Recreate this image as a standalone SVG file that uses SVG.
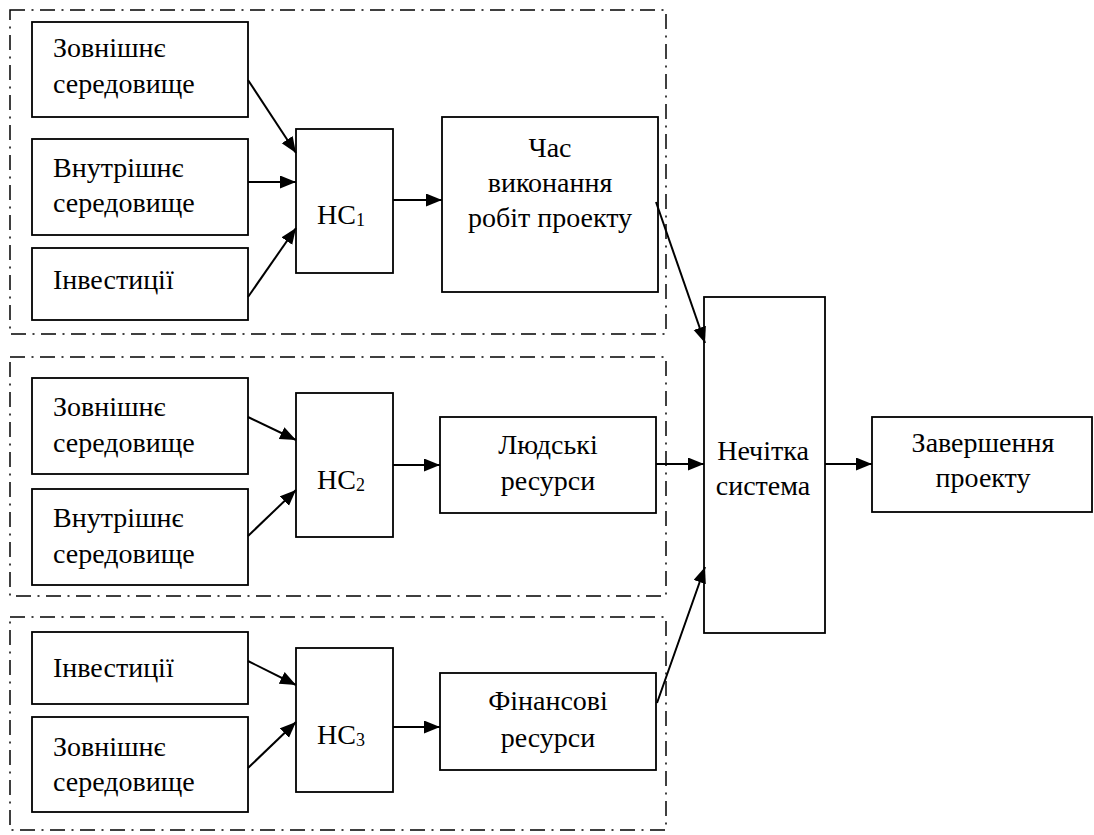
<svg xmlns="http://www.w3.org/2000/svg" width="1094" height="835" viewBox="0 0 1094 835">
<style>
.box{fill:#fff;stroke:#000;stroke-width:1.8}
.grp{fill:none;stroke:#000;stroke-width:1.5;stroke-dasharray:15 6.5 2 6.5}
.c{text-anchor:middle}
.ln{fill:none;stroke:#000;stroke-width:2;marker-end:url(#ah)}
</style>
<defs>
<marker id="ah" markerUnits="userSpaceOnUse" markerWidth="17" markerHeight="14" refX="16" refY="6.5" orient="auto">
<path d="M0,0 L16,6.5 L0,13 z" fill="#000"/>
</marker>
</defs>
<rect width="1094" height="835" fill="#fff"/>
<g id="groups">
<rect class="grp" x="10" y="10" width="656" height="324"/>
<rect class="grp" x="10" y="357" width="656" height="239"/>
<rect class="grp" x="10" y="617" width="656" height="213"/>
</g>
<g id="g1-ext"><rect class="box" x="32" y="22" width="216" height="95"/><text font-family="Liberation Serif" font-size="28" x="53" y="57">Зовнішнє</text><text font-family="Liberation Serif" font-size="28" x="53" y="93">середовище</text></g>
<g id="g1-int"><rect class="box" x="32" y="139" width="216" height="96"/><text font-family="Liberation Serif" font-size="28" x="53" y="177">Внутрішнє</text><text font-family="Liberation Serif" font-size="28" x="53" y="212">середовище</text></g>
<g id="g1-inv"><rect class="box" x="32" y="248" width="216" height="72"/><text font-family="Liberation Serif" font-size="28" x="53" y="289">Інвестиції</text></g>
<g id="hc1"><rect class="box" x="296" y="129" width="97" height="144"/><text font-family="Liberation Serif" font-size="28" x="317" y="224">НС<tspan font-size="18" dy="2">1</tspan></text></g>
<g id="time"><rect class="box" x="442" y="117" width="216" height="175"/><text font-family="Liberation Serif" font-size="28" class="c" x="550" y="157">Час</text><text font-family="Liberation Serif" font-size="28" class="c" x="550" y="192">виконання</text><text font-family="Liberation Serif" font-size="28" class="c" x="550" y="227">робіт проекту</text></g>
<g id="g2-ext"><rect class="box" x="32" y="378" width="216" height="96"/><text font-family="Liberation Serif" font-size="28" x="53" y="416">Зовнішнє</text><text font-family="Liberation Serif" font-size="28" x="53" y="452">середовище</text></g>
<g id="g2-int"><rect class="box" x="32" y="489" width="216" height="96"/><text font-family="Liberation Serif" font-size="28" x="53" y="527">Внутрішнє</text><text font-family="Liberation Serif" font-size="28" x="53" y="563">середовище</text></g>
<g id="hc2"><rect class="box" x="296" y="393" width="97" height="144"/><text font-family="Liberation Serif" font-size="28" x="317" y="489">НС<tspan font-size="18" dy="2">2</tspan></text></g>
<g id="human"><rect class="box" x="440" y="417" width="216" height="96"/><text font-family="Liberation Serif" font-size="28" class="c" x="548" y="454">Людські</text><text font-family="Liberation Serif" font-size="28" class="c" x="548" y="490">ресурси</text></g>
<g id="g3-inv"><rect class="box" x="32" y="632" width="216" height="72"/><text font-family="Liberation Serif" font-size="28" x="53" y="677">Інвестиції</text></g>
<g id="g3-ext"><rect class="box" x="32" y="717" width="216" height="95"/><text font-family="Liberation Serif" font-size="28" x="53" y="756">Зовнішнє</text><text font-family="Liberation Serif" font-size="28" x="53" y="791">середовище</text></g>
<g id="hc3"><rect class="box" x="296" y="648" width="97" height="144"/><text font-family="Liberation Serif" font-size="28" x="317" y="744">НС<tspan font-size="18" dy="2">3</tspan></text></g>
<g id="fin"><rect class="box" x="440" y="673" width="216" height="97"/><text font-family="Liberation Serif" font-size="28" class="c" x="548" y="710">Фінансові</text><text font-family="Liberation Serif" font-size="28" class="c" x="548" y="747">ресурси</text></g>
<g id="fuzzy"><rect class="box" x="704" y="297" width="121" height="336"/><text font-family="Liberation Serif" font-size="28" class="c" x="763" y="460">Нечітка</text><text font-family="Liberation Serif" font-size="28" class="c" x="763" y="495">система</text></g>
<g id="finish"><rect class="box" x="872" y="417" width="220" height="95"/><text font-family="Liberation Serif" font-size="28" class="c" x="983" y="452">Завершення</text><text font-family="Liberation Serif" font-size="28" class="c" x="983" y="487">проекту</text></g>
<g id="connectors">
<line class="ln" x1="248" y1="80" x2="296" y2="153"/>
<line class="ln" x1="248" y1="182" x2="296" y2="182"/>
<line class="ln" x1="248" y1="297" x2="296" y2="228"/>
<line class="ln" x1="393" y1="200" x2="442" y2="200"/>
<line class="ln" x1="656" y1="202" x2="705" y2="343"/>
<line class="ln" x1="248" y1="417" x2="296" y2="440"/>
<line class="ln" x1="248" y1="536" x2="296" y2="490"/>
<line class="ln" x1="393" y1="465" x2="440" y2="465"/>
<line class="ln" x1="656" y1="464" x2="704" y2="464"/>
<line class="ln" x1="248" y1="661" x2="296" y2="685"/>
<line class="ln" x1="248" y1="768" x2="296" y2="722"/>
<line class="ln" x1="393" y1="727" x2="440" y2="727"/>
<line class="ln" x1="657" y1="703" x2="705" y2="567"/>
<line class="ln" x1="825" y1="464" x2="872" y2="464"/>
</g>
</svg>
